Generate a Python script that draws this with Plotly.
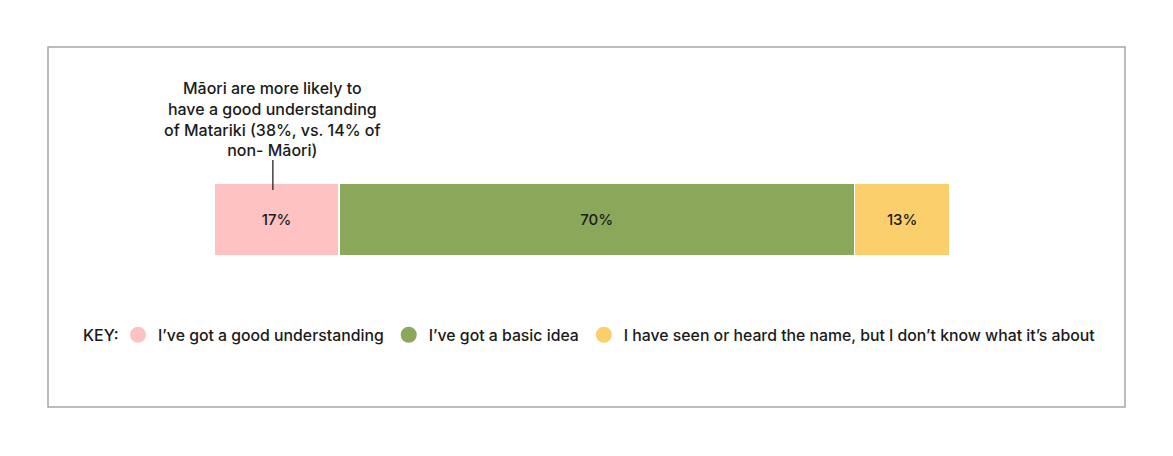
import plotly.graph_objects as go

# data
categories = ["I’ve got a good understanding", "I’ve got a basic idea",
              "I have seen or heard the name, but I don’t know what it’s about"]
values = [17, 70, 13]
colors = ["#FFC2C2", "#8BA75A", "#FBD06C"]
note = "Māori are more likely to<br>have a good understanding<br>of Matariki (38%, vs. 14% of<br>non- Māori)"

W, H = 1173, 456
OFF = 8  # page margin around the figure
fnt = "Inter, Lato, sans-serif"
txtc = "#1a1a1a"

def px(v):  # page pixel x -> paper
  return (v - OFF) / W

def py(v):  # page pixel y -> paper
  return 1 - (v - OFF) / H

fig = go.Figure()
for cat, v, c in zip(categories, values, colors):
  fig.add_trace(go.Bar(
    y=[""], x=[v], orientation="h", name=cat,
    marker=dict(color=c, line=dict(color="white", width=1.5)),
    text=[f"{v}%"], textposition="inside", insidetextanchor="middle",
    textfont=dict(color=txtc, size=15, family=fnt, weight=500),
    width=1, showlegend=False))
  # circle markers for the key
  fig.add_trace(go.Scatter(x=[None], y=[None], mode="markers", name=cat,
                           marker=dict(color=c, size=17, symbol="circle")))

fig.update_layout(
  width=W, height=H, barmode="stack",
  margin=dict(l=0, r=0, t=0, b=0),
  paper_bgcolor="white", plot_bgcolor="white",
  font=dict(family=fnt, color=txtc, size=16, weight=500),
  xaxis=dict(domain=[px(214), px(950)], range=[0, 100], visible=False, fixedrange=True),
  yaxis=dict(domain=[py(256), py(183)], range=[-0.5, 0.5], visible=False),
  showlegend=True,
  legend=dict(orientation="h", x=px(118), y=py(335), xanchor="left", yanchor="middle",
              font=dict(size=15.8, color=txtc, weight=500), itemsizing="trace",
              traceorder="normal", bgcolor="rgba(0,0,0,0)"),
)

# key label
fig.add_annotation(x=px(81), xref="paper", y=py(335), yref="paper",
                   xanchor="left", yanchor="middle", text="KEY:", showarrow=False,
                   font=dict(size=16, color=txtc, family=fnt, weight=500))

# outer frame
fig.add_shape(type="rect", xref="paper", yref="paper",
              x0=px(48), x1=px(1125), y0=py(407), y1=py(47),
              line=dict(color="#a6a6a6", width=1.5))

# callout
fig.add_shape(type="line", xref="x", yref="paper", x0=8, x1=8,
              y0=py(160), y1=py(190), line=dict(color="#111", width=1.2))
fig.add_annotation(x=8, xref="x", y=py(76), yref="paper", yanchor="top",
                   text=note, showarrow=False, align="center",
                   font=dict(size=16, color=txtc, family=fnt, weight=500))

fig.write_html("out.html")
